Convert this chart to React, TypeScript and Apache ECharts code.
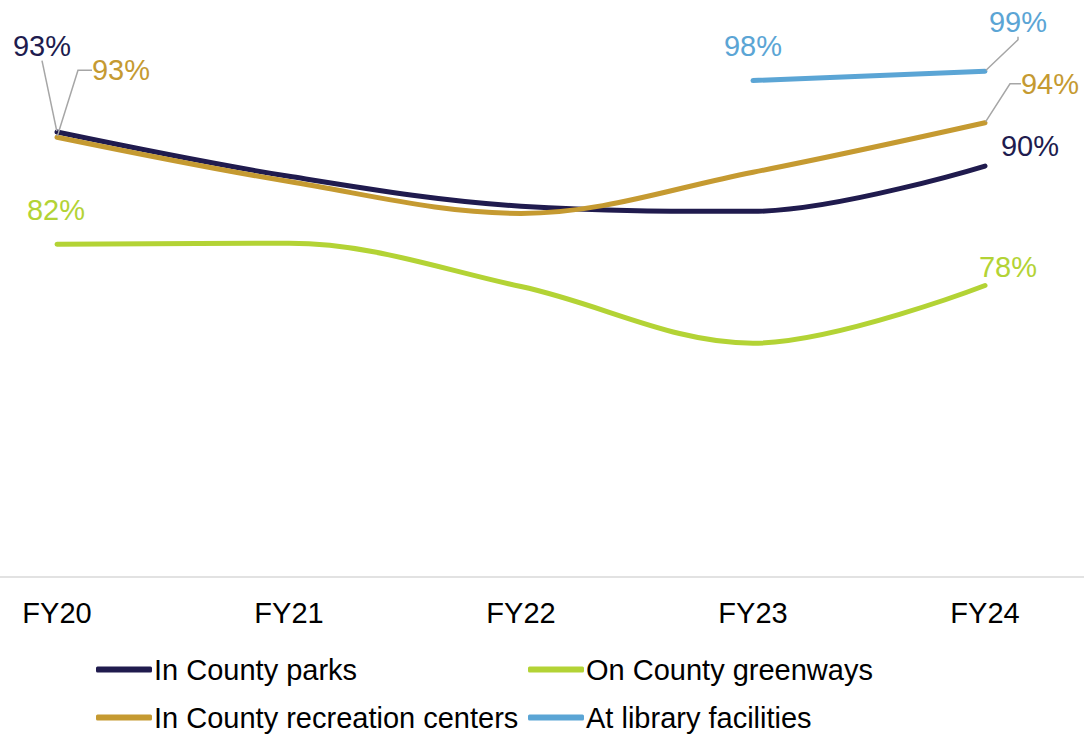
import React, { useEffect, useRef } from "react";
import * as echarts from "echarts";

const categories = ["FY20", "FY21", "FY22", "FY23", "FY24"];
const parks = [93.2, 88.9, 86.0, 85.5, 89.9];
const greenways = [82.3, 82.4, 78.2, 72.7, 78.3];
const recreation = [92.7, 88.4, 85.3, 89.3, 94.1];
const library: (number | null)[] = [null, null, null, 98.2, 99.1];

const FONT = "'Liberation Sans', Arial, Helvetica, sans-serif";
const FS = 29;
const C_PARKS = "#201b4e";
const C_GREEN = "#b3d335";
const C_REC = "#c59a31";
const C_LIB = "#5ba5d5";
const LEADER = "#a6a6a6";

type LabelCfg = { dx: number; dy: number; line?: boolean; len2?: number };

function mk(values: (number | null)[], color: string, labels: Record<number, LabelCfg>) {
  return values.map((v, i) => {
    const cfg = labels[i];
    if (v == null) return null;
    if (!cfg) return { value: v };
    return {
      value: v,
      label: {
        show: true,
        position: "inside",
        offset: [cfg.dx, cfg.dy],
        align: "center",
        verticalAlign: "middle",
        color,
        fontSize: FS,
        fontFamily: FONT,
        formatter: (p: any) => Math.round(p.value) + "%",
      },
      labelLine: {
        show: !!cfg.line,
        length2: cfg.len2 || 0,
        smooth: false,
        lineStyle: { color: LEADER, width: 1.5 },
      },
    };
  });
}

function lineSeries(name: string, data: any[], color: string) {
  return {
    name,
    type: "line",
    xAxisIndex: 0,
    yAxisIndex: 0,
    data,
    smooth: 0.35,
    symbol: "circle",
    symbolSize: 2,
    showSymbol: true,
    connectNulls: false,
    lineStyle: { color, width: 5, cap: "round", join: "round" },
    itemStyle: { color },
    label: { show: false },
    labelLine: { show: false },
    emphasis: { disabled: true },
  };
}

function legendItem(name: string, left: number, top: number) {
  return {
    orient: "horizontal",
    left,
    top,
    itemWidth: 56,
    itemHeight: 6,
    icon: "roundRect",
    textStyle: { color: "#000", fontSize: FS, fontFamily: FONT, padding: [0, 0, 0, -3] },
    data: [name],
  };
}

export default function App() {
  const ref = useRef<HTMLDivElement>(null);
  useEffect(() => {
    if (!ref.current) return;
    const chart = echarts.init(ref.current, undefined, { renderer: "svg" });
    chart.setOption({
      animation: false,
      backgroundColor: "#ffffff",
      grid: [
        { left: 57, right: 99, top: 62, bottom: 157, containLabel: false },
        { left: 0, right: 0, top: 62, bottom: 157, containLabel: false },
      ],
      xAxis: [
        {
          type: "category",
          gridIndex: 0,
          data: categories,
          boundaryGap: false,
          axisLine: { show: false },
          axisTick: { show: false },
          axisLabel: { color: "#000", fontSize: FS, fontFamily: FONT, margin: 21 },
          splitLine: { show: false },
        },
        {
          type: "category",
          gridIndex: 1,
          data: categories,
          axisLine: { show: true, lineStyle: { color: "#d9d9d9", width: 1.5 } },
          axisTick: { show: false },
          axisLabel: { show: false },
          splitLine: { show: false },
        },
      ],
      yAxis: [
        { type: "value", gridIndex: 0, min: 50, max: 100, show: false },
        { type: "value", gridIndex: 1, min: 50, max: 100, show: false },
      ],
      legend: [
        legendItem("In County parks", 91, 650),
        legendItem("On County greenways", 523, 650),
        legendItem("In County recreation centers", 91, 698),
        legendItem("At library facilities", 523, 698),
      ],
      series: [
        lineSeries(
          "In County parks",
          mk(parks, C_PARKS, {
            0: { dx: -15, dy: -86, line: true, len2: 0 },
            4: { dx: 45, dy: -20 },
          }),
          C_PARKS
        ),
        lineSeries(
          "On County greenways",
          mk(greenways, C_GREEN, {
            0: { dx: -1, dy: -34 },
            4: { dx: 23, dy: -19 },
          }),
          C_GREEN
        ),
        lineSeries(
          "In County recreation centers",
          mk(recreation, C_REC, {
            0: { dx: 64, dy: -67, line: true, len2: 14 },
            4: { dx: 65, dy: -39, line: true, len2: 11 },
          }),
          C_REC
        ),
        lineSeries(
          "At library facilities",
          mk(library, C_LIB, {
            3: { dx: 0, dy: -35 },
            4: { dx: 33, dy: -49, line: true, len2: 3 },
          }),
          C_LIB
        ),
      ],
    });
    return () => chart.dispose();
  }, []);
  return (
    <div
      ref={ref}
      style={{ position: "absolute", left: 0, top: 0, width: 1084, height: 734, background: "#fff" }}
    />
  );
}
